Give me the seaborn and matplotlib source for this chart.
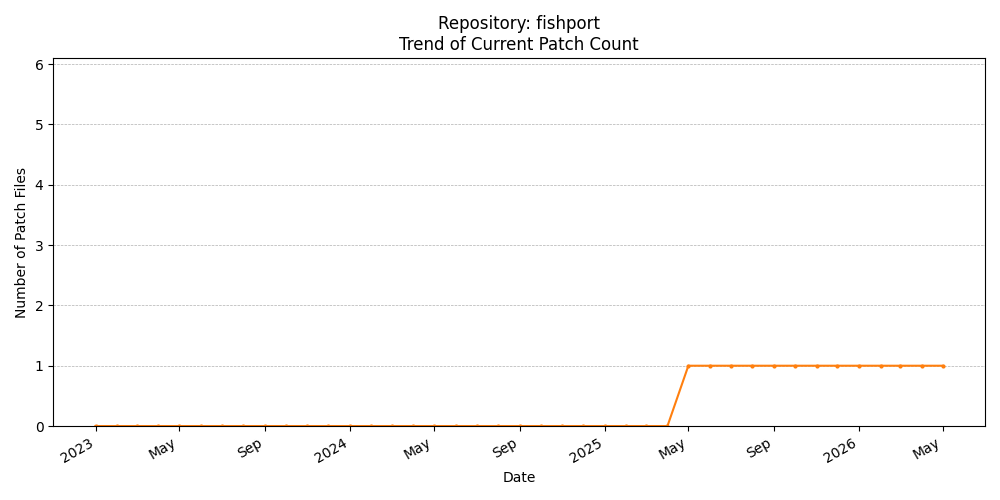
import matplotlib
matplotlib.use("Agg")
import matplotlib.pyplot as plt
import matplotlib.dates as mdates
import seaborn as sns
import pandas as pd

dates = pd.date_range("2023-01-01", "2026-05-01", freq="MS")
counts = [0]*28 + [1]*13

df = pd.DataFrame({"Date": dates, "Count": counts})

fig, ax = plt.subplots(figsize=(10, 5), dpi=100)
sns.lineplot(data=df, x="Date", y="Count", ax=ax, color="#ff7f0e",
             marker="o", markersize=3, markeredgewidth=0)
ax.set_ylim(0, 6.1)
ax.grid(axis="y", linestyle="--", linewidth=0.5)
ax.set_xlabel("Date")
ax.set_ylabel("Number of Patch Files")
ax.set_title("Repository: fishport\nTrend of Current Patch Count")
ax.xaxis.set_major_locator(mdates.MonthLocator(bymonth=[1, 5, 9]))
ax.xaxis.set_major_formatter(mdates.ConciseDateFormatter(ax.xaxis.get_major_locator(), formats=['%Y', '%b', '%d', '%H:%M', '%H:%M', '%S.%f'], offset_formats=['']*6))
fig.autofmt_xdate()
plt.tight_layout()
fig.savefig("out.png")
